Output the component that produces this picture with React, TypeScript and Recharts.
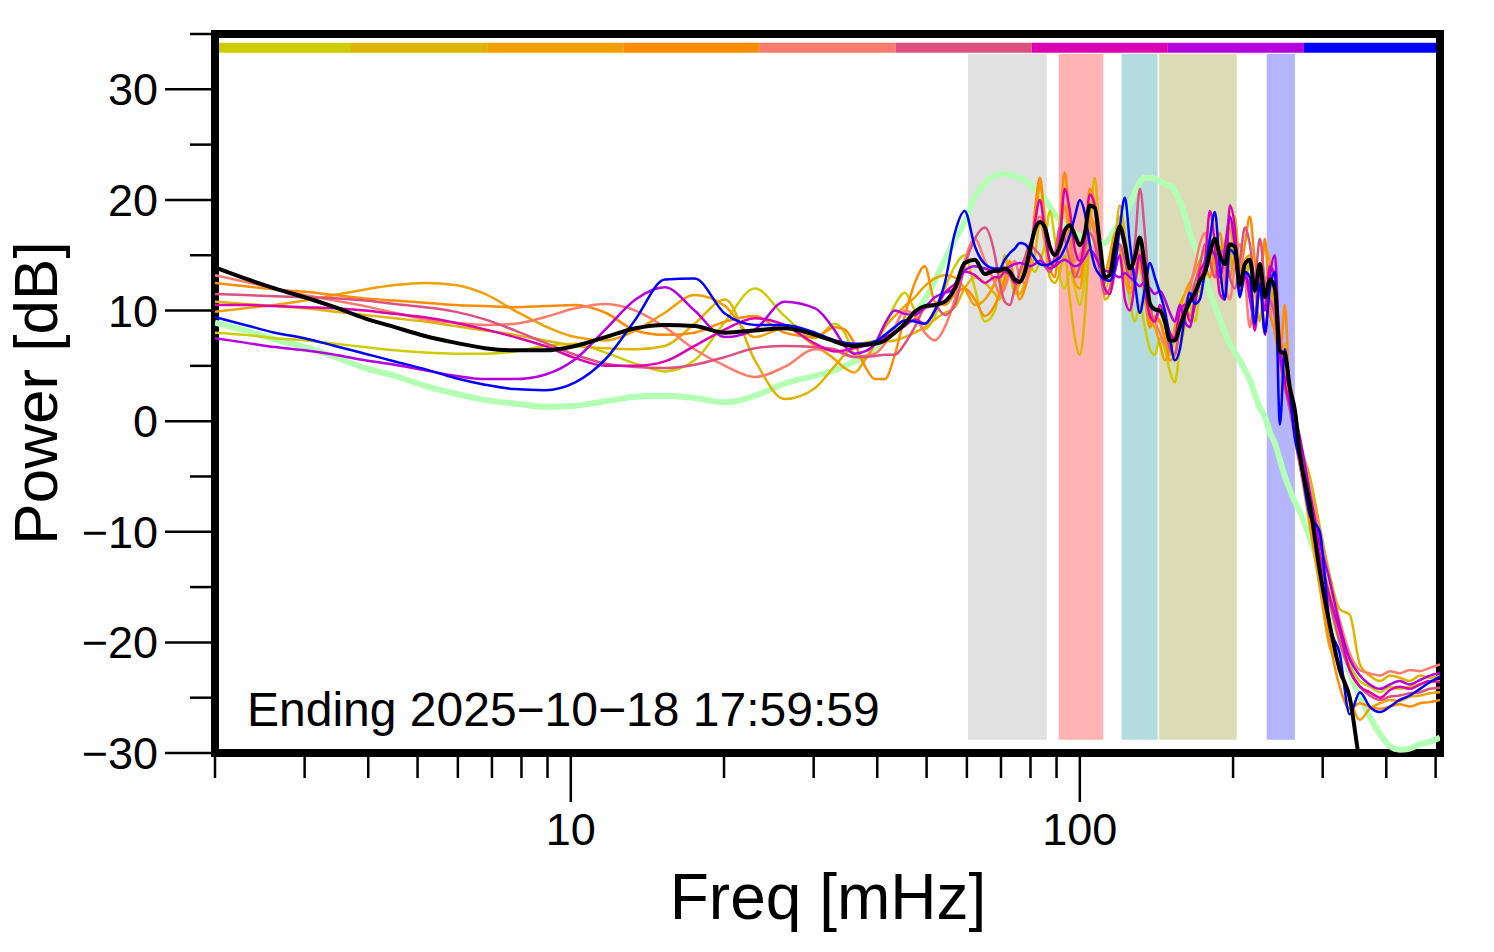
import { LineChart, Line, XAxis, YAxis, ReferenceArea } from 'recharts';

// frequency grid, mHz
const freqs = [
  2, 2.29, 2.62, 3, 3.44, 3.94, 4.51, 5.17, 5.92, 6.78, 7.76, 8.89, 10.2, 11.7, 13.4, 15.3, 17.5, 20.1, 23, 26.3, 30.2,
  33, 34.5, 36.1, 37.8, 39.6, 41.4, 43.3, 45.3, 47.4, 49.6, 51.9, 54.3, 56.8, 59.4, 62.2, 65.1, 68.1,
  69.6, 71.2, 72.9, 74.5, 76.2, 78, 79.8, 81.6, 83.5, 85.4,
  87.3, 89.3, 91.4, 93.4, 95.6, 97.8, 100, 102.3, 104.6, 107,
  109.5, 112, 114.5, 117.2, 119.8, 122.6, 125.4, 128.3, 131.2, 134.2,
  137.3, 140.4, 143.6, 146.9, 150.3, 153.7, 157.2, 160.8, 164.5, 168.3,
  172.1, 176.1, 180.1, 184.2, 188.4, 192.7, 197.1, 201.6, 206.3, 211,
  215.8, 220.7, 225.8, 231, 236.2, 241.7, 247.2, 252.8, 258.6, 264.5,
  270.6,
  283, 296, 310, 324, 339, 355, 371, 389, 407, 425, 445, 466, 487, 510,
];

const meanDb = [
  13.9, 12.9, 12.0, 11.2, 10.3, 9.3, 8.5, 7.7, 7.1, 6.6, 6.4, 6.4, 6.8, 7.6, 8.4, 8.7, 8.6, 8.0, 8.2, 8.4, 7.8,
  7.2, 6.9, 6.8, 6.9, 7.0, 7.3, 8.0, 8.8, 9.9, 10.4, 10.5, 10.8, 12.0, 14.3, 14.6, 13.3, 13.6,
  13.6, 13.8, 13.5, 12.8, 12.6, 13.5, 15.5, 17.3, 18.0, 17.5,
  15.8, 15.0, 15.8, 17.2, 17.7, 16.8, 15.9, 17.0, 19.5, 19.3,
  16.0, 13.0, 13.2, 15.8, 17.6, 16.0, 13.8, 14.8, 16.6, 14.0,
  10.6, 10.1, 10.0, 9.0, 7.3, 7.3, 8.5, 9.8, 10.8, 11.6,
  12.7, 13.4, 15.2, 16.5, 15.0, 14.2, 16.0, 15.8, 12.3, 14.2,
  14.6, 11.8, 14.2, 11.2, 12.8, 12.0, 6.3, 6.1, 3.0, 1.0,
  -3.0,
  -7.5, -13.5, -18.5, -22.5, -25.0, -31, -35, -38, -40, -40, -40, -40, -40, -40,
];

const quietDb = [
  8.9, 8.2, 7.4, 6.7, 5.8, 4.8, 4.1, 3.2, 2.5, 1.9, 1.6, 1.3, 1.4, 1.8, 2.2, 2.3, 2.1, 1.7, 2.3, 3.4, 4.1,
  4.6, 5.0, 5.4, 5.8, 6.3, 7.3, 8.3, 9.0, 9.6, 11.0, 12.7, 14.6, 16.4, 18.0, 20.3, 21.5, 22.2,
  22.3, 22.4, 22.3, 22.1, 22.0, 21.8, 21.4, 21.0, 20.6, 20.1,
  19.4, 18.7, 18.2, 17.7, 17.3, 17.0, 16.7, 16.5, 16.3, 16.2,
  16.1, 16.1, 16.6, 17.3, 17.8, 18.6, 19.6, 20.7, 21.6, 22.0,
  22.0, 21.9, 21.7, 21.4, 21.3, 20.8, 19.8, 18.6, 17.0, 15.8,
  14.5, 13.0, 11.6, 10.4, 9.2, 8.0, 7.0, 6.2, 5.5, 4.6,
  3.7, 2.4, 1.2, 0.4, -1.0, -2.0, -3.5, -5.0, -6.2, -7.3,
  -8.2,
  -10.6, -13.2, -16.8, -19.7, -22.8, -24.9, -26.7, -28.3, -29.4, -29.7, -29.6, -29.2, -29.0, -28.6,
];

const day1Db = [
  8.0, 7.8, 7.5, 7.3, 7.0, 6.7, 6.4, 6.2, 6.1, 6.1, 6.3, 6.8, 7.0, 6.2, 5.2, 4.5, 5.5, 9.0, 12.0, 9.5, 7.5,
  8.8, 8.0, 6.0, 5.6, 7.0, 8.5, 10.5, 11.6, 10.0, 8.3, 9.5, 12.0, 14.0, 15.0, 12.0, 9.0, 10.0,
  12.0, 15.0, 13.5, 11.5, 12.5, 13.0, 14.0, 13.5, 14.5, 16.0,
  19.0, 16.5, 13.0, 12.0, 13.5, 12.0, 10.5, 13.0, 17.5, 18.0,
  14.0, 12.0, 13.0, 16.5, 18.5, 15.0, 11.0, 9.0, 10.5, 8.5,
  6.5, 6.0, 7.5, 6.5, 4.5, 3.5, 6.5, 8.5, 10.5, 9.0,
  11.5, 13.0, 15.5, 14.0, 12.5, 14.5, 18.0, 15.5, 12.0, 14.0,
  12.5, 10.0, 11.5, 8.0, 11.5, 12.5, 5.5, 4.0, 1.0, -1.0,
  -3.0,
  -7.5, -12.0, -15.5, -19.5, -22.0, -23.5, -24.0, -24.5, -24.0, -24.2, -24.0, -23.8, -23.6, -23.5,
];

const day2Db = [
  10.8, 10.6, 10.4, 10.2, 9.9, 9.6, 9.3, 9.0, 8.6, 8.2, 7.8, 7.3, 6.8, 6.6, 6.5, 6.8, 8.8, 11.0, 5.5, 2.0, 3.0,
  5.0, 6.0, 6.8, 7.1, 7.2, 7.2, 7.3, 7.6, 8.0, 8.5, 9.2, 9.8, 10.3, 12.0, 13.0, 12.5, 11.5,
  11.0, 12.5, 14.0, 12.5, 11.5, 12.5, 13.5, 15.0, 18.0, 16.0,
  13.0, 12.5, 13.5, 15.0, 11.0, 7.5, 6.0, 9.5, 17.0, 22.0,
  16.0, 11.0, 11.5, 16.0, 19.5, 17.0, 13.5, 12.5, 14.5, 11.0,
  8.5, 9.0, 9.0, 7.5, 6.0, 8.0, 10.0, 11.5, 12.5, 11.5,
  13.0, 14.5, 15.0, 13.5, 15.5, 16.0, 14.0, 18.5, 13.5, 12.5,
  14.5, 12.0, 9.0, 13.0, 12.5, 9.0, 5.0, 7.0, 3.0, 0.5,
  -2.0,
  -5.0, -9.5, -14.0, -17.0, -17.5, -22.0, -23.0, -23.5, -23.0, -23.2, -23.5, -23.0, -23.2, -23.0,
];

const day3Db = [
  9.9, 10.2, 10.5, 10.9, 11.4, 11.9, 12.3, 12.5, 12.3, 11.5, 10.0, 8.6, 7.6, 7.3, 8.2, 9.8, 11.4, 10.4, 7.6, 8.4, 6.8,
  5.6, 4.8, 4.4, 5.5, 7.0, 8.5, 9.5, 10.4, 11.2, 12.2, 12.9, 13.2, 13.0, 12.0, 10.5, 11.0, 12.5,
  13.5, 14.5, 13.5, 12.0, 12.5, 14.5, 16.0, 17.0, 21.5, 17.5,
  13.5, 14.5, 17.0, 19.5, 16.0, 12.5, 12.0, 15.0, 18.5, 17.5,
  14.0, 13.5, 15.0, 17.0, 15.5, 13.0, 11.5, 13.0, 14.0, 11.0,
  9.0, 8.5, 7.0, 5.5, 6.5, 8.5, 10.5, 11.5, 12.5, 13.5,
  14.5, 15.5, 16.5, 14.5, 13.5, 16.0, 17.5, 15.0, 13.0, 14.5,
  15.0, 12.0, 13.5, 15.5, 14.5, 9.0, 6.0, 4.5, 1.5, -1.5,
  -4.0,
  -9.5, -15.0, -20.5, -22.0, -25.0, -27.0, -26.0, -25.5, -25.2, -25.3, -24.9, -24.8, -24.6, -24.5,
];

const day4Db = [
  12.5, 12.2, 11.9, 11.7, 11.4, 11.1, 10.9, 10.7, 10.5, 10.4, 10.3, 10.4, 10.5, 9.8, 8.2, 7.8, 8.0, 9.0, 9.5, 8.0, 7.6,
  8.5, 8.3, 7.0, 5.0, 3.8, 3.8, 6.0, 9.5, 12.5, 14.0, 10.8, 10.5, 11.5, 12.0, 11.0, 9.5, 10.5,
  11.5, 13.0, 14.5, 12.5, 11.0, 12.0, 14.0, 19.0, 22.0, 18.0,
  14.0, 13.0, 18.0, 22.5, 17.5, 13.5, 13.0, 16.0, 21.0, 19.5,
  14.5, 12.5, 14.0, 16.5, 17.5, 15.5, 12.0, 13.0, 15.0, 11.5,
  8.5, 9.5, 9.0, 7.5, 5.5, 6.0, 9.0, 10.5, 9.5, 11.0,
  12.5, 14.0, 13.0, 15.5, 17.0, 14.0, 13.0, 15.0, 13.5, 16.0,
  18.5, 14.5, 12.0, 16.5, 10.0, 8.0, 5.5, 10.5, 2.0, -0.5,
  -3.5,
  -9.0, -14.0, -20.0, -24.0, -26.0, -25.5, -25.8, -26.0, -25.8, -25.6, -25.8, -25.5, -25.4, -25.2,
];

const day5Db = [
  13.2, 12.6, 12.0, 11.4, 10.9, 10.4, 9.8, 9.2, 8.9, 8.7, 8.8, 9.4, 10.2, 10.6, 10.0, 8.5, 6.5, 5.0, 4.0, 4.9, 6.5,
  6.4, 6.0, 5.8, 5.9, 6.1, 7.0, 8.5, 10.0, 9.5, 8.0, 7.3, 8.5, 11.0, 14.5, 16.5, 14.5, 12.5,
  11.5, 12.0, 13.5, 14.5, 13.0, 12.5, 14.5, 17.5, 18.5, 16.5,
  14.5, 14.0, 15.5, 17.0, 16.0, 14.5, 15.0, 16.5, 18.0, 17.0,
  14.5, 13.0, 13.5, 15.5, 17.0, 15.5, 12.5, 13.5, 15.5, 12.5,
  10.0, 9.0, 8.0, 7.0, 7.0, 8.0, 9.5, 10.5, 12.0, 14.0,
  16.0, 17.0, 14.5, 13.0, 15.5, 12.5, 11.0, 14.0, 16.0, 13.0,
  8.5, 12.5, 14.0, 11.0, 9.5, 11.0, 8.0, 5.5, 3.5, 1.0,
  -1.5,
  -6.0, -10.0, -14.5, -18.0, -21.0, -22.5, -22.8, -23.0, -22.6, -22.8, -22.5, -22.6, -22.3, -22.0,
];

const day6Db = [
  11.5, 11.4, 11.3, 11.2, 11.1, 10.9, 10.6, 10.3, 9.9, 9.2, 8.2, 7.1, 6.0, 5.2, 4.9, 4.8, 5.1, 5.8, 6.6, 6.8, 6.7,
  6.5, 6.1, 5.8, 5.8, 5.9, 6.0, 6.0, 7.0, 8.5, 10.2, 10.4, 9.6, 10.5, 14.0, 16.5, 17.5, 15.0,
  12.5, 10.8, 10.5, 12.0, 13.5, 14.8, 16.0, 15.5, 15.0, 14.0,
  13.5, 15.0, 17.5, 16.5, 14.5, 13.0, 14.0, 15.5, 17.0, 16.0,
  13.5, 11.5, 12.0, 14.5, 16.0, 14.5, 13.0, 16.0, 21.0, 17.0,
  11.0, 9.0, 10.0, 9.0, 6.5, 6.0, 8.5, 10.5, 11.0, 12.5,
  14.0, 16.0, 14.5, 13.0, 15.0, 15.5, 13.0, 12.0, 14.5, 17.5,
  16.0, 13.0, 16.5, 12.5, 11.0, 9.5, 5.5, 3.0, 1.0, -1.5,
  -4.0,
  -8.0, -12.5, -16.5, -20.0, -22.5, -24.0, -24.8, -25.2, -24.9, -24.8, -24.6, -24.5, -24.2, -24.1,
];

const day7Db = [
  10.5, 10.5, 10.4, 10.3, 10.2, 10.0, 9.7, 9.4, 8.9, 8.3, 7.6, 6.8, 5.7, 5.0, 5.0, 5.4, 6.8, 8.3, 9.3, 8.7, 7.0,
  6.3, 6.4, 6.6, 6.8, 7.2, 7.6, 8.0, 8.6, 9.2, 8.8, 10.0, 11.6, 12.4, 13.5, 13.2, 12.5, 13.0,
  13.0, 13.5, 13.2, 12.5, 12.5, 13.5, 15.0, 18.0, 20.0, 17.0,
  14.5, 14.0, 16.5, 21.0, 19.0, 15.5, 14.5, 16.5, 20.5, 19.5,
  15.0, 12.0, 11.5, 13.5, 15.0, 11.0, 10.0, 12.5, 15.0, 12.0,
  9.5, 9.0, 10.5, 9.5, 8.0, 7.5, 10.0, 10.5, 9.0, 10.5,
  13.5, 14.5, 19.0, 16.0, 11.5, 11.0, 19.5, 17.5, 11.5, 13.0,
  12.0, 8.2, 12.5, 10.0, 14.0, 13.0, 7.0, 3.5, 1.5, -1.0,
  -3.0,
  -7.0, -12.0, -16.0, -19.0, -22.5, -24.0, -24.5, -25.0, -24.3, -24.0, -24.2, -23.8, -23.5, -23.6,
];

const day8Db = [
  7.5, 7.1, 6.7, 6.4, 6.0, 5.5, 5.1, 4.6, 4.1, 3.8, 3.8, 4.2, 5.6, 8.3, 11.0, 12.1, 10.0, 7.6, 8.3, 10.8, 10.2,
  8.2, 6.8, 6.1, 6.3, 7.0, 8.8, 10.0, 9.7, 9.6, 10.3, 11.2, 11.6, 12.0, 13.6, 14.0, 13.8, 13.5,
  13.6, 13.8, 14.0, 14.2, 14.3, 14.2, 14.0, 14.2, 14.5, 14.2,
  13.8, 14.0, 14.4, 14.6, 14.3, 14.0, 14.2, 14.8, 15.5, 15.0,
  14.0, 13.6, 13.5, 13.2, 13.0, 13.4, 13.0, 12.6, 12.2, 12.6,
  12.0, 11.5, 11.8, 11.0, 9.8, 9.0, 10.5, 9.0, 8.5, 11.0,
  12.5, 14.0, 15.5, 15.0, 13.0, 15.5, 18.5, 16.0, 12.5, 13.5,
  11.0, 9.0, 13.5, 7.8, 13.0, 15.0, 6.0, 4.0, 3.0, 0.5,
  -1.5,
  -6.5, -11.0, -14.5, -18.5, -21.5, -23.0, -23.8, -24.2, -23.8, -23.5, -23.8, -23.4, -23.0, -22.8,
];

const day9Db = [
  9.4, 8.7, 8.0, 7.5, 6.8, 6.1, 5.4, 4.7, 3.9, 3.3, 2.9, 2.8, 3.5, 5.6, 9.2, 12.8, 12.9, 9.7, 8.7, 8.7, 8.0,
  7.3, 7.1, 7.0, 7.0, 7.2, 7.8, 8.5, 9.1, 9.0, 8.8, 10.0, 12.5, 17.0, 19.0, 15.8, 14.2, 13.8,
  13.8, 14.6, 15.2, 15.6, 16.1, 16.0, 15.4, 14.7, 14.2, 14.1,
  14.2, 14.5, 14.8, 15.6, 16.8, 18.5, 20.0, 18.8, 16.0, 14.0,
  13.2, 12.8, 12.7, 14.0, 17.5, 20.2, 16.1, 12.5, 9.8, 12.0,
  14.3, 13.0, 11.6, 10.0, 7.5, 5.5, 6.5, 9.5, 11.6, 10.6,
  11.0, 13.6, 16.5, 18.9, 14.0, 11.0, 15.5, 15.0, 11.2, 13.5,
  13.0, 8.8, 12.4, 8.0, 12.0, 13.5, -0.3, 6.5, 2.5, -1.5,
  -3.5,
  -8.5, -10.0, -18.5, -21.0, -26.5, -24.5, -25.8, -26.3, -25.8, -25.2, -24.8, -24.2, -23.6, -23.1,
];

const dayKeys = ['d1', 'd2', 'd3', 'd4', 'd5', 'd6', 'd7', 'd8', 'd9'];
const dayValues = [day1Db, day2Db, day3Db, day4Db, day5Db, day6Db, day7Db, day8Db, day9Db];
const dayColors = ['#CCCC00', '#DDB400', '#F0A000', '#FF8C00', '#FF7B6B', '#DD5080', '#DD00B0', '#B400DD', '#0000FF'];

// colour strip across the top, one segment per day
const stripEdges = [2, 3.7, 6.85, 12.68, 23.48, 43.46, 80.44, 148.9, 275.6, 510];

// shaded frequency bands
const bandStart = [60.3, 90.9, 120.8, 143.2, 232.9];
const bandEnd = [86.1, 111.2, 142.2, 203.3, 264.5];
const bandColors = ['#E1E1E1', '#FFB3B3', '#B4DCDE', '#DBDBB5', '#B4B4FF'];

const xTicks = [2, 3, 4, 5, 6, 7, 8, 9, 10, 20, 30, 40, 50, 60, 70, 80, 90, 100, 200, 300, 400, 500];
const xLabels = [10, 100];
const yTicks = [-30, -25, -20, -15, -10, -5, 0, 5, 10, 15, 20, 25, 30, 35];
const yLabels = [-30, -20, -10, 0, 10, 20, 30];

const FONT = '"Liberation Sans", Arial, Helvetica, sans-serif';

const data = freqs.map((f, i) => {
  const row: Record<string, number> = { f, mean: meanDb[i], quiet: quietDb[i] };
  dayKeys.forEach((k, j) => {
    row[k] = dayValues[j][i];
  });
  return row;
});

const fmt = (v: number) => (v < 0 ? '\u2212' + Math.abs(v) : String(v));

function XTick(props: any) {
  const { x, y, payload } = props;
  const major = xLabels.includes(payload.value);
  return (
    <g>
      <line x1={x} x2={x} y1={y} y2={y + (major ? 49 : 25)} stroke="#000" strokeWidth={2.5} />
      {major && (
        <text x={x} y={y + 92} textAnchor="middle" fontSize={45} fontFamily={FONT} fill="#000">
          {payload.value}
        </text>
      )}
    </g>
  );
}

function YTick(props: any) {
  const { x, y, payload } = props;
  const major = yLabels.includes(payload.value);
  return (
    <g>
      <line x1={x - (major ? 50 : 25)} x2={x} y1={y} y2={y} stroke="#000" strokeWidth={2.5} />
      {major && (
        <text x={x - 57} y={y + 16} textAnchor="end" fontSize={45} fontFamily={FONT} fill="#000">
          {fmt(payload.value)}
        </text>
      )}
    </g>
  );
}

export default function App() {
  return (
    <div style={{ position: 'absolute', left: 0, top: 0, width: 1494, height: 950, background: '#fff' }}>
      <LineChart width={1494} height={950} data={data} margin={{ top: 34, right: 54, bottom: 7, left: 0 }}>
        <XAxis
          dataKey="f"
          type="number"
          scale="log"
          domain={[2, 510]}
          allowDataOverflow
          ticks={xTicks}
          interval={0}
          tick={<XTick />}
          tickLine={false}
          tickSize={0}
          tickMargin={0}
          axisLine={false}
          height={190}
        />
        <YAxis
          type="number"
          domain={[-30, 35]}
          allowDataOverflow
          ticks={yTicks}
          interval={0}
          tick={<YTick />}
          tickLine={false}
          tickSize={0}
          tickMargin={0}
          axisLine={false}
          width={215}
        />
        {bandStart.map((s, i) => (
          <ReferenceArea key={'band' + i} x1={s} x2={bandEnd[i]} y1={-28.8} y2={33.2} fill={bandColors[i]} fillOpacity={1} stroke="none" />
        ))}
        {dayColors.map((c, i) => (
          <ReferenceArea key={'strip' + i} x1={stripEdges[i]} x2={stripEdges[i + 1]} y1={33.3} y2={34.2} fill={c} fillOpacity={1} stroke="none" />
        ))}
        <Line dataKey="quiet" type="monotone" stroke="#B3FFB3" strokeWidth={6} dot={false} activeDot={false} isAnimationActive={false} />
        {dayKeys.map((k, i) => (
          <Line key={k} dataKey={k} type="monotone" stroke={dayColors[i]} strokeWidth={2.5} dot={false} activeDot={false} isAnimationActive={false} />
        ))}
        <Line dataKey="mean" type="monotone" stroke="#000" strokeWidth={4} dot={false} activeDot={false} isAnimationActive={false} />
        <ReferenceArea x1={2} x2={510} y1={-30} y2={35} fill="none" stroke="#000" strokeWidth={8} />
      </LineChart>
      <svg width={1494} height={950} style={{ position: 'absolute', left: 0, top: 0, pointerEvents: 'none' }}>
        <text transform="translate(57,393) rotate(-90)" textAnchor="middle" fontSize={62} fontFamily={FONT} fill="#000">
          Power [dB]
        </text>
        <text x={828} y={919} textAnchor="middle" fontSize={64} fontFamily={FONT} fill="#000">
          Freq [mHz]
        </text>
        <text x={247} y={726} fontSize={48} fontFamily={FONT} fill="#000">
          Ending 2025{'\u2212'}10{'\u2212'}18 17:59:59
        </text>
      </svg>
    </div>
  );
}
